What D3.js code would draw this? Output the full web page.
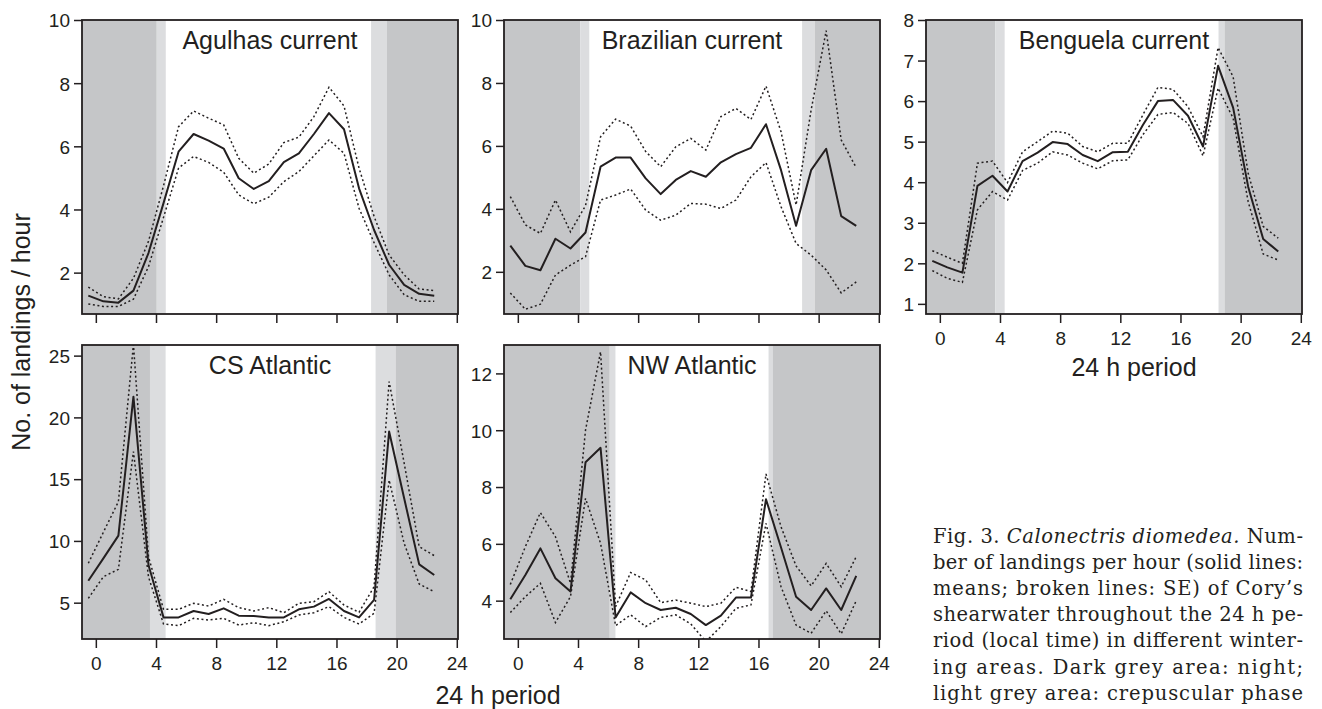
<!DOCTYPE html>
<html>
<head>
<meta charset="utf-8">
<script src="https://cdn.jsdelivr.net/npm/d3@7"></script>
<style>
  html, body { margin: 0; padding: 0; background: #fff; }
  svg { display: block; }
</style>
</head>
<body>
<svg id="chart" width="1322" height="709"></svg>
<script>
// ---------------- DATA ----------------
const hours = [-0.5, 0.5, 1.5, 2.5, 3.5, 4.5, 5.5, 6.5, 7.5, 8.5, 9.5, 10.5,
               11.5, 12.5, 13.5, 14.5, 15.5, 16.5, 17.5, 18.5, 19.5, 20.5, 21.5, 22.5];
const xTickValues = [0, 4, 8, 12, 16, 20, 24];

const panelNames = ["Agulhas current", "Brazilian current", "Benguela current", "CS Atlantic", "NW Atlantic"];

// means
const agulhasMean   = [1.27, 1.09, 1.05, 1.43, 2.62, 4.2, 5.83, 6.39, 6.18, 5.93, 4.99, 4.65, 4.90, 5.50, 5.78, 6.39, 7.05, 6.54, 4.67, 3.35, 2.25, 1.61, 1.33, 1.27];
const brazilMean    = [2.83, 2.19, 2.05, 3.05, 2.74, 3.25, 5.34, 5.63, 5.63, 4.97, 4.47, 4.92, 5.20, 5.02, 5.48, 5.74, 5.94, 6.69, 5.23, 3.46, 5.23, 5.91, 3.77, 3.46];
const benguelaMean  = [2.06, 1.90, 1.77, 3.91, 4.16, 3.77, 4.52, 4.73, 4.99, 4.94, 4.67, 4.52, 4.74, 4.75, 5.41, 6.00, 6.03, 5.64, 4.88, 6.87, 5.84, 3.89, 2.60, 2.29];
const csMean        = [6.78, 8.59, 10.43, 21.68, 8.05, 3.81, 3.81, 4.33, 4.08, 4.54, 3.95, 3.92, 3.81, 3.81, 4.46, 4.68, 5.30, 4.33, 3.81, 5.22, 18.85, 13.45, 8.10, 7.24];
const nwMean        = [4.05, 4.90, 5.84, 4.79, 4.32, 8.87, 9.38, 3.41, 4.29, 3.91, 3.67, 3.75, 3.53, 3.14, 3.47, 4.11, 4.11, 7.57, 5.87, 4.14, 3.67, 4.43, 3.67, 4.87];

// upper SE
const agulhasUpper  = [1.54, 1.24, 1.17, 1.82, 2.99, 4.75, 6.62, 7.12, 6.89, 6.68, 5.62, 5.15, 5.44, 6.12, 6.29, 6.94, 7.87, 7.28, 5.31, 3.78, 2.56, 1.93, 1.48, 1.43];
const brazilUpper   = [4.39, 3.49, 3.22, 4.28, 3.27, 4.10, 6.29, 6.85, 6.63, 5.82, 5.34, 5.97, 6.24, 5.87, 6.93, 7.19, 6.84, 7.90, 6.45, 4.12, 7.14, 9.66, 6.19, 5.31];
const benguelaUpper = [2.31, 2.15, 2.00, 4.47, 4.52, 3.99, 4.75, 5.00, 5.26, 5.21, 4.88, 4.75, 4.96, 4.96, 5.66, 6.34, 6.29, 5.86, 5.12, 7.32, 6.60, 4.22, 2.91, 2.62];
const csUpper       = [8.19, 10.7, 13.18, 25.9, 8.72, 4.46, 4.46, 4.95, 4.73, 5.27, 4.60, 4.33, 4.60, 4.19, 4.95, 5.08, 5.89, 4.81, 4.22, 6.30, 22.9, 16.3, 9.53, 8.81];
const nwUpper       = [4.57, 5.90, 7.10, 6.25, 4.61, 10.0, 12.76, 3.79, 4.99, 4.73, 3.93, 4.02, 3.91, 3.79, 3.91, 4.47, 4.32, 8.46, 6.60, 5.22, 4.52, 5.31, 4.49, 5.55];

// lower SE
const agulhasLower  = [1.01, 0.93, 0.93, 1.16, 2.19, 3.75, 5.31, 5.68, 5.49, 5.18, 4.46, 4.18, 4.39, 4.88, 5.20, 5.70, 6.20, 5.78, 4.04, 2.95, 1.93, 1.30, 1.09, 1.09];
const brazilLower   = [1.33, 0.81, 0.97, 1.90, 2.21, 2.48, 4.28, 4.44, 4.63, 3.96, 3.64, 3.80, 4.17, 4.15, 4.01, 4.28, 5.02, 5.47, 4.07, 2.90, 2.53, 2.06, 1.33, 1.68];
const benguelaLower = [1.82, 1.63, 1.53, 3.32, 3.77, 3.56, 4.29, 4.47, 4.75, 4.67, 4.47, 4.33, 4.53, 4.55, 5.17, 5.67, 5.72, 5.45, 4.65, 6.32, 5.58, 3.52, 2.23, 2.08];
const csLower       = [5.35, 7.10, 7.70, 17.23, 7.10, 3.27, 3.14, 3.73, 3.60, 3.73, 3.19, 3.38, 3.14, 3.46, 4.00, 4.19, 4.68, 3.81, 3.27, 4.14, 14.93, 9.80, 6.51, 5.89];
const nwLower       = [3.58, 4.14, 4.61, 3.23, 4.14, 7.60, 6.02, 3.12, 3.50, 3.09, 3.41, 3.50, 3.18, 2.56, 3.09, 3.73, 3.85, 6.72, 4.49, 3.14, 2.85, 3.64, 2.83, 4.00];

// light phases (hours): [end of night, end of dawn, start of dusk, start of night]
const agulhasPhases  = [4.05, 4.65, 18.3, 19.35];
const brazilPhases   = [4.15, 4.75, 18.9, 19.75];
const benguelaPhases = [3.69, 4.31, 18.53, 18.93];
const csPhases       = [3.6, 4.64, 18.6, 19.93];
const nwPhases       = [6.11, 6.49, 16.67, 16.96];

// y axis ticks
const agulhasTicks  = [2, 4, 6, 8, 10];
const brazilTicks   = [2, 4, 6, 8, 10];
const benguelaTicks = [1, 2, 3, 4, 5, 6, 7, 8];
const csTicks       = [5, 10, 15, 20, 25];
const nwTicks       = [4, 6, 8, 10, 12];

// y ranges of the plotting regions
const agulhasYRange  = [0.69, 10];
const brazilYRange   = [0.66, 10];
const benguelaYRange = [0.75, 8];
const csYRange       = [2.06, 25.86];
const nwYRange       = [2.65, 13.0];
const xRange = [-0.92, 24.08];

const captionLines = [
  [["Fig. 3. ", false], ["Calonectris diomedea.", true], [" Num-", false]],
  [["ber of landings per hour (solid lines:", false]],
  [["means; broken lines: SE) of Cory\u2019s", false]],
  [["shearwater throughout the 24 h pe-", false]],
  [["riod (local time) in different winter-", false]],
  [["ing areas. Dark grey area: night;", false]],
  [["light grey area: crepuscular phase", false]]
];

// ---------------- LAYOUT ----------------
const panels = [
  { name: panelNames[0], mean: agulhasMean,  upper: agulhasUpper,  lower: agulhasLower,  phases: agulhasPhases,  ticks: agulhasTicks,  yr: agulhasYRange,  left: 82,  top: 20,  xlabels: false },
  { name: panelNames[1], mean: brazilMean,   upper: brazilUpper,   lower: brazilLower,   phases: brazilPhases,   ticks: brazilTicks,   yr: brazilYRange,   left: 504, top: 20,  xlabels: false },
  { name: panelNames[2], mean: benguelaMean, upper: benguelaUpper, lower: benguelaLower, phases: benguelaPhases, ticks: benguelaTicks, yr: benguelaYRange, left: 926, top: 20,  xlabels: true },
  { name: panelNames[3], mean: csMean,       upper: csUpper,       lower: csLower,       phases: csPhases,       ticks: csTicks,       yr: csYRange,       left: 82,  top: 345, xlabels: true },
  { name: panelNames[4], mean: nwMean,       upper: nwUpper,       lower: nwLower,       phases: nwPhases,       ticks: nwTicks,       yr: nwYRange,       left: 504, top: 345, xlabels: true }
];
const PW = 376, PH = 294;
const INK = "#231f20";
const DARK = "#c5c6c8", LIGHT = "#dcdddf";
const SANS = "'Liberation Sans', Arial, Helvetica, sans-serif";

const svg = d3.select("#chart");

panels.forEach((p, i) => {
  const x = d3.scaleLinear().domain(xRange).range([p.left, p.left + PW]);
  const y = d3.scaleLinear().domain(p.yr).range([p.top + PH, p.top]);
  const g = svg.append("g");

  const clipId = "clip" + i;
  svg.append("clipPath").attr("id", clipId)
    .append("rect").attr("x", p.left).attr("y", p.top).attr("width", PW).attr("height", PH);

  // shading
  const bands = [
    [xRange[0], p.phases[0], DARK],
    [p.phases[0], p.phases[1], LIGHT],
    [p.phases[2], p.phases[3], LIGHT],
    [p.phases[3], xRange[1], DARK]
  ];
  g.selectAll("rect.band").data(bands).enter().append("rect")
    .attr("x", d => x(d[0])).attr("width", d => x(d[1]) - x(d[0]))
    .attr("y", p.top).attr("height", PH).attr("fill", d => d[2]);

  // title
  g.append("text").attr("x", p.left + PW / 2).attr("y", p.top + 28.5)
    .attr("text-anchor", "middle").attr("font-family", SANS).attr("font-size", 25)
    .attr("fill", INK).text(p.name);

  // lines
  const line = d3.line().x((d, j) => x(hours[j])).y(d => y(d));
  const lg = g.append("g").attr("clip-path", `url(#${clipId})`);
  [p.upper, p.lower].forEach(s => {
    lg.append("path").attr("d", line(s)).attr("fill", "none")
      .attr("stroke", INK).attr("stroke-width", 1.5).attr("stroke-dasharray", "2,2.6");
  });
  lg.append("path").attr("d", line(p.mean)).attr("fill", "none")
    .attr("stroke", INK).attr("stroke-width", 2).attr("stroke-linejoin", "round");

  // frame
  g.append("rect").attr("x", p.left).attr("y", p.top).attr("width", PW).attr("height", PH)
    .attr("fill", "none").attr("stroke", INK).attr("stroke-width", 1.8);

  // y axis
  const ya = g.append("g").attr("transform", `translate(${p.left},0)`)
    .call(d3.axisLeft(y).tickValues(p.ticks).tickSize(8).tickPadding(4).tickFormat(d3.format("d")));
  ya.select(".domain").remove();
  ya.selectAll("line").attr("stroke", INK).attr("stroke-width", 1.5);
  ya.selectAll("text").attr("font-family", SANS).attr("font-size", 19).attr("fill", INK).attr("dy", "0.36em");

  // x axis
  const xa = g.append("g").attr("transform", `translate(0,${p.top + PH})`)
    .call(d3.axisBottom(x).tickValues(xTickValues).tickSize(9)
      .tickFormat(p.xlabels ? d3.format("d") : () => ""));
  xa.select(".domain").remove();
  xa.selectAll("line").attr("stroke", INK).attr("stroke-width", 1.5);
  xa.selectAll("text").attr("font-family", SANS).attr("font-size", 19).attr("fill", INK)
    .attr("y", 31).attr("dy", 0);
});

// axis titles
svg.append("text")
  .attr("transform", "translate(30,332) rotate(-90)")
  .attr("text-anchor", "middle").attr("font-family", SANS).attr("font-size", 25).attr("fill", INK)
  .text("No. of landings / hour");
svg.append("text").attr("x", 1134).attr("y", 376)
  .attr("text-anchor", "middle").attr("font-family", SANS).attr("font-size", 25).attr("fill", INK)
  .text("24 h period");
svg.append("text").attr("x", 498).attr("y", 704)
  .attr("text-anchor", "middle").attr("font-family", SANS).attr("font-size", 25).attr("fill", INK)
  .text("24 h period");

// caption
const capX = 933, capW = 370, capY0 = 543, capDY = 26.1;
captionLines.forEach((parts, k) => {
  const t = svg.append("text").attr("x", capX).attr("y", capY0 + k * capDY)
    .attr("font-family", "'DejaVu Serif', serif").attr("font-size", 19.5).attr("fill", INK)
    .attr("xml:space", "preserve");
  parts.forEach(([s, it]) => {
    t.append("tspan").attr("font-style", it ? "italic" : "normal").text(s);
  });
  const w = t.node().getComputedTextLength();
  t.attr("textLength", capW).attr("lengthAdjust", w > capW ? "spacingAndGlyphs" : "spacing");
});
</script>
</body>
</html>
